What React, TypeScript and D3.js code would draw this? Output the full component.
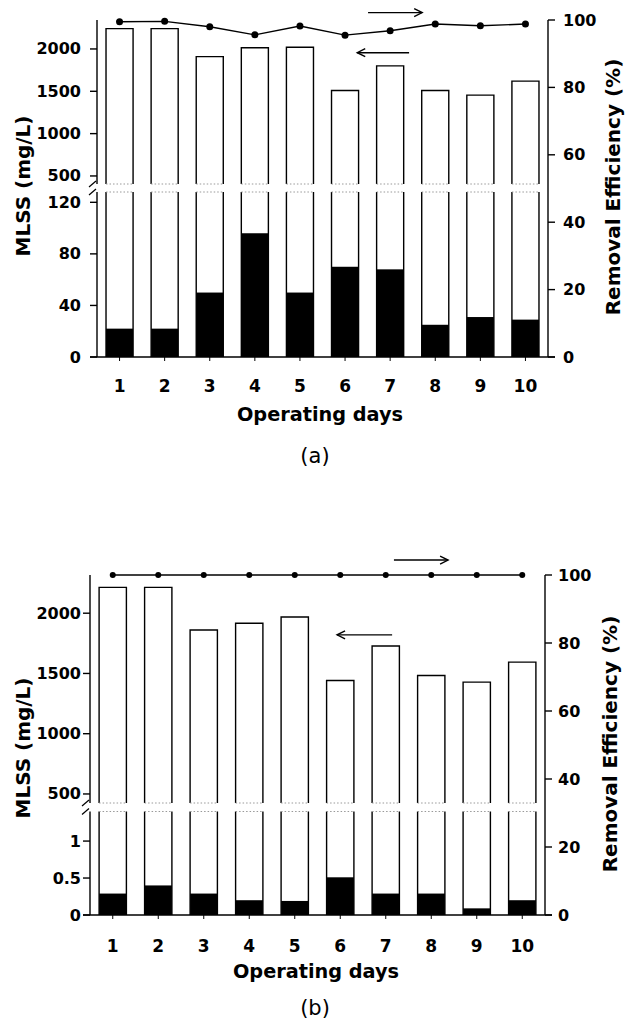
import React from 'react';
import * as d3 from 'd3';

const days = [1, 2, 3, 4, 5, 6, 7, 8, 9, 10];

// Panel (a)
const mlssA = [2240, 2240, 1910, 2015, 2020, 1510, 1800, 1510, 1455, 1620];
const effluentA = [22, 22, 50, 96, 50, 70, 68, 25, 31, 29];
const removalA = [99.5, 99.6, 98.0, 95.6, 98.2, 95.5, 96.8, 98.8, 98.3, 98.8];

// Panel (b)
const mlssB = [2214, 2214, 1861, 1917, 1969, 1442, 1728, 1483, 1428, 1594];
const effluentB = [0.29, 0.4, 0.29, 0.2, 0.19, 0.51, 0.29, 0.29, 0.09, 0.2];
const removalB = [100, 100, 100, 100, 100, 100, 100, 100, 100, 100];

const upperTicks = [500, 1000, 1500, 2000];
const lowerTicksA = [0, 40, 80, 120];
const lowerTicksB = [0, 0.5, 1];
const removalTicks = [0, 20, 40, 60, 80, 100];

// arrows: from day -> to day, at a removal-axis value
const arrowsA = [
  { from: 6.51, to: 7.71, value: 102.2 },
  { from: 7.42, to: 6.27, value: 90.3 },
];
const arrowsB = [
  { from: 7.18, to: 8.37, value: 104.4 },
  { from: 7.14, to: 5.93, value: 82.4 },
];

const FONT = '"DejaVu Sans", sans-serif';

type Cfg = {
  left: number; right: number; top: number; upperBottom: number; lowerTop: number; base: number;
  upperDomain: [number, number]; lowerDomain: [number, number];
  mlss: number[]; eff: number[]; removal: number[];
  lowerTicks: number[]; arrows: { from: number; to: number; value: number }[];
  leftLabelX: number; leftTickGap: number; rightLabelStart: number; rightTitleX: number;
  titleCenterY: number; leftTitleCenterY: number; rightTitleCenterY: number;
  xTickY: number; xTitleY: number; xTitleX: number; panelLabel: string; panelLabelY: number;
  dotR: number;
};

function Panel({ c }: { c: Cfg }) {
  const x = d3.scaleBand<string>().domain(days.map(String)).range([c.left, c.right]).paddingInner(0.4).paddingOuter(0.2);
  const yU = d3.scaleLinear().domain(c.upperDomain).range([c.upperBottom, c.top]);
  const yL = d3.scaleLinear().domain(c.lowerDomain).range([c.base, c.lowerTop]);
  const yR = d3.scaleLinear().domain([0, 100]).range([c.base, c.top]);
  const bw = x.bandwidth();
  const xc = (d: number) => (x(String(d)) as number) + bw / 2;
  const xDay = d3.scaleLinear().domain([1, 10]).range([xc(1), xc(10)]);
  const line = d3.line<number>().x((_, i) => xc(days[i])).y((v) => yR(v));

  const sw = 1.4;
  return (
    <g>
      {/* bars */}
      {days.map((d, i) => {
        const x0 = x(String(d)) as number;
        const x1 = x0 + bw;
        const yTop = yU(c.mlss[i]);
        const yE = yL(c.eff[i]);
        return (
          <g key={d}>
            <rect x={x0} y={yE} width={bw} height={c.base - yE} fill="#000" />
            <path d={`M${x0},${c.lowerTop}V${c.base}M${x1},${c.base}V${c.lowerTop}`} stroke="#000" strokeWidth={sw} fill="none" />
            <line x1={x0} x2={x1} y1={c.lowerTop} y2={c.lowerTop} stroke="#999" strokeWidth={1} strokeDasharray="1.5,2" />
            <path d={`M${x0},${c.upperBottom}V${yTop}H${x1}V${c.upperBottom}`} stroke="#000" strokeWidth={sw} fill="none" />
            <line x1={x0} x2={x1} y1={c.upperBottom} y2={c.upperBottom} stroke="#999" strokeWidth={1} strokeDasharray="1.5,2" />
          </g>
        );
      })}

      {/* left axis upper */}
      <line x1={c.left} x2={c.left} y1={c.top} y2={c.upperBottom} stroke="#000" strokeWidth={sw} />
      {upperTicks.map((t) => (
        <g key={'u' + t}>
          <line x1={c.left - 7} x2={c.left} y1={yU(t)} y2={yU(t)} stroke="#000" strokeWidth={sw} />
          <text x={c.leftLabelX} y={yU(t)} textAnchor="end" dominantBaseline="central" fontFamily={FONT} fontWeight="bold" fontSize={16}>{t}</text>
        </g>
      ))}
      {/* left axis lower */}
      <line x1={c.left} x2={c.left} y1={c.lowerTop} y2={c.base} stroke="#000" strokeWidth={sw} />
      {c.lowerTicks.map((t) => (
        <g key={'l' + t}>
          <line x1={c.left - 7} x2={c.left} y1={yL(t)} y2={yL(t)} stroke="#000" strokeWidth={sw} />
          <text x={c.leftLabelX} y={yL(t)} textAnchor="end" dominantBaseline="central" fontFamily={FONT} fontWeight="bold" fontSize={16}>{t}</text>
        </g>
      ))}
      {/* break marks */}
      {[c.upperBottom, c.lowerTop].map((yy, i) => (
        <line key={'br' + i} x1={c.left - 8} y1={yy + 3} x2={c.left - 1} y2={yy - 3} stroke="#000" strokeWidth={1.2} />
      ))}

      {/* right axis */}
      <line x1={c.right} x2={c.right} y1={c.top} y2={c.base} stroke="#000" strokeWidth={sw} />
      {removalTicks.map((t) => (
        <g key={'r' + t}>
          <line x1={c.right} x2={c.right + 7} y1={yR(t)} y2={yR(t)} stroke="#000" strokeWidth={sw} />
          <text x={c.rightLabelStart} y={yR(t)} textAnchor="start" dominantBaseline="central" fontFamily={FONT} fontWeight="bold" fontSize={16}>{t}</text>
        </g>
      ))}

      {/* x axis */}
      <line x1={c.left - 7} x2={c.right + 7} y1={c.base} y2={c.base} stroke="#000" strokeWidth={sw} />
      {days.map((d) => (
        <g key={'x' + d}>
          <line x1={xc(d)} x2={xc(d)} y1={c.base} y2={c.base + 4} stroke="#000" strokeWidth={1} />
          <text x={xc(d)} y={c.xTickY} textAnchor="middle" fontFamily={FONT} fontWeight="bold" fontSize={17}>{d}</text>
        </g>
      ))}

      {/* removal line */}
      <path d={line(c.removal) as string} fill="none" stroke="#000" strokeWidth={1.4} />
      {c.removal.map((v, i) => (
        <circle key={'p' + i} cx={xc(days[i])} cy={yR(v)} r={c.dotR} fill="#000" />
      ))}

      {/* arrows */}
      {c.arrows.map((a, i) => {
        const xa = xDay(a.from);
        const xb = xDay(a.to);
        const yy = yR(a.value);
        const dir = xb > xa ? 1 : -1;
        return (
          <g key={'a' + i} stroke="#000" strokeWidth={1.4} fill="none">
            <line x1={xa} x2={xb} y1={yy} y2={yy} />
            <path d={`M${xb - dir * 8},${yy - 4}L${xb},${yy}L${xb - dir * 8},${yy + 4}`} />
          </g>
        );
      })}

      {/* titles */}
      <text transform={`translate(${c.rightTitleX - (c.rightTitleX - 23)},${c.leftTitleCenterY}) rotate(-90)`} textAnchor="middle" dominantBaseline="central" fontFamily={FONT} fontWeight="bold" fontSize={20}>MLSS (mg/L)</text>
      <text transform={`translate(${c.rightTitleX},${c.rightTitleCenterY}) rotate(-90)`} textAnchor="middle" dominantBaseline="central" fontFamily={FONT} fontWeight="bold" fontSize={20}>Removal Efficiency (%)</text>
      <text x={c.xTitleX} y={c.xTitleY} textAnchor="middle" fontFamily={FONT} fontWeight="bold" fontSize={19.3}>Operating days</text>
      <text x={315} y={c.panelLabelY} textAnchor="middle" fontFamily={FONT} fontSize={21}>{c.panelLabel}</text>
    </g>
  );
}

const cfgA: Cfg = {
  left: 97, right: 548, top: 20, upperBottom: 184, lowerTop: 192, base: 357,
  upperDomain: [405, 2342], lowerDomain: [0, 128],
  mlss: mlssA, eff: effluentA, removal: removalA, lowerTicks: lowerTicksA, arrows: arrowsA,
  leftLabelX: 81, leftTickGap: 9, rightLabelStart: 563, rightTitleX: 613,
  titleCenterY: 186, leftTitleCenterY: 186, rightTitleCenterY: 187,
  xTickY: 392, xTitleY: 421, xTitleX: 320, panelLabel: '(a)', panelLabelY: 463, dotR: 3.5,
};

const cfgB: Cfg = {
  left: 90, right: 545, top: 575, upperBottom: 803, lowerTop: 811.5, base: 915,
  upperDomain: [425, 2317], lowerDomain: [0, 1.4],
  mlss: mlssB, eff: effluentB, removal: removalB, lowerTicks: lowerTicksB, arrows: arrowsB,
  leftLabelX: 81, leftTickGap: 2, rightLabelStart: 558, rightTitleX: 610,
  titleCenterY: 748, leftTitleCenterY: 748, rightTitleCenterY: 744,
  xTickY: 952, xTitleY: 978, xTitleX: 316, panelLabel: '(b)', panelLabelY: 1015, dotR: 3,
};

export default function App() {
  return (
    <svg width={629} height={1021} viewBox="0 0 629 1021" style={{ position: 'absolute', left: 0, top: 0, background: '#fff' }}>
      <rect x={0} y={0} width={629} height={1021} fill="#fff" />
      <Panel c={cfgA} />
      <Panel c={cfgB} />
    </svg>
  );
}
